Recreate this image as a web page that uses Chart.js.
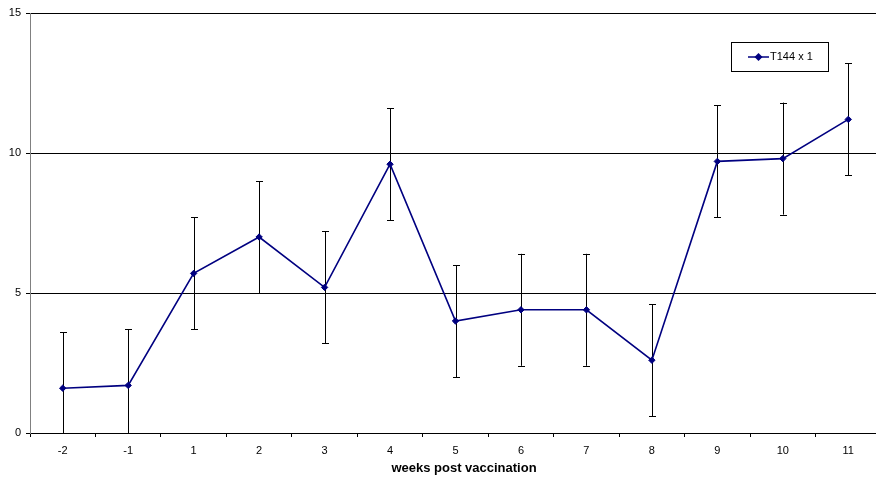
<!DOCTYPE html>
<html>
<head>
<meta charset="utf-8">
<script src="https://cdn.jsdelivr.net/npm/chart.js@4/dist/chart.umd.min.js"></script>
<style>
html,body{margin:0;padding:0;overflow:hidden;background:#fff;}
#wrap{position:absolute;left:0;top:0;width:886px;height:479px;}
</style>
</head>
<body>
<div id="wrap"><canvas id="c"></canvas></div>
<script>
const categories = ['-2','-1','1','2','3','4','5','6','7','8','9','10','11'];
const values = [1.6, 1.7, 5.7, 7.0, 5.2, 9.6, 4.0, 4.4, 4.4, 2.6, 9.7, 9.8, 11.2];
const errors = [2, 2, 2, 2, 2, 2, 2, 2, 2, 2, 2, 2, 2];
const yTicks = [0, 5, 10, 15];
const seriesLabel = 'T144 x 1';
const xTitle = 'weeks post vaccination';

const FONT = '"Liberation Sans", Arial, sans-serif';
const NAVY = '#000080';

const errorBars = {
  id: 'errorBars',
  beforeDatasetsDraw(chart) {
    const ctx = chart.ctx, x = chart.scales.x, y = chart.scales.y, a = chart.chartArea;
    ctx.save();
    ctx.beginPath();
    ctx.rect(a.left, a.top, a.right - a.left, a.bottom - a.top);
    ctx.clip();
    ctx.strokeStyle = '#000';
    ctx.lineWidth = 1;
    values.forEach((v, i) => {
      const px = Math.round(x.getPixelForValue(i)) + 0.5;
      const hi = y.getPixelForValue(v + errors[i]);
      const lo = y.getPixelForValue(v - errors[i]);
      ctx.beginPath();
      ctx.moveTo(px, hi); ctx.lineTo(px, lo);
      ctx.moveTo(px - 3.5, Math.round(hi) + 0.5); ctx.lineTo(px + 3.5, Math.round(hi) + 0.5);
      ctx.moveTo(px - 3.5, Math.round(lo) + 0.5); ctx.lineTo(px + 3.5, Math.round(lo) + 0.5);
      ctx.stroke();
    });
    ctx.restore();
  }
};

const extras = {
  id: 'extras',
  afterDraw(chart) {
    const ctx = chart.ctx;
    ctx.save();
    // legend box
    ctx.fillStyle = '#fff';
    ctx.fillRect(731, 42, 97, 29);
    ctx.strokeStyle = '#000';
    ctx.lineWidth = 1;
    ctx.strokeRect(731.5, 42.5, 97, 29);
    ctx.strokeStyle = NAVY;
    ctx.lineWidth = 1.5;
    ctx.beginPath();
    ctx.moveTo(748, 57); ctx.lineTo(769, 57);
    ctx.stroke();
    ctx.fillStyle = NAVY;
    ctx.beginPath();
    ctx.moveTo(758.5, 53); ctx.lineTo(762.5, 57); ctx.lineTo(758.5, 61); ctx.lineTo(754.5, 57);
    ctx.closePath(); ctx.fill();
    ctx.fillStyle = '#000';
    ctx.font = '11px ' + FONT;
    ctx.textAlign = 'left';
    ctx.textBaseline = 'middle';
    ctx.fillText(seriesLabel, 770, 57);
    // axis title
    ctx.font = 'bold 13px ' + FONT;
    ctx.textAlign = 'center';
    ctx.textBaseline = 'alphabetic';
    ctx.fillText(xTitle, 464, 472);
    ctx.restore();
  }
};

new Chart(document.getElementById('c'), {
  type: 'line',
  data: {
    labels: categories,
    datasets: [{
      label: seriesLabel,
      data: values,
      borderColor: NAVY,
      backgroundColor: NAVY,
      borderWidth: 1.6,
      pointStyle: 'rectRot',
      pointRadius: 3.2,
      pointBorderWidth: 1,
      pointBorderColor: NAVY,
      pointBackgroundColor: NAVY,
      tension: 0,
      fill: false
    }]
  },
  options: {
    responsive: true,
    maintainAspectRatio: false,
    animation: false,
    devicePixelRatio: 1,
    layout: { padding: { top: 13, left: 0, right: 0, bottom: 0 } },
    plugins: { legend: { display: false }, tooltip: { enabled: false } },
    scales: {
      x: {
        type: 'category',
        offset: true,
        grid: { display: true, offset: true, drawOnChartArea: false, drawTicks: true, tickLength: 4, color: '#000' },
        border: { display: true, color: '#000', width: 1 },
        ticks: { color: '#000', font: { family: FONT, size: 11 }, padding: 7, maxRotation: 0, autoSkip: false },
        afterFit(s) { s.height = 46; }
      },
      y: {
        min: 0, max: 15,
        afterBuildTicks(s) { s.ticks = yTicks.map(v => ({ value: v })); },
        grid: { color: '#000', tickLength: 4, drawTicks: true },
        border: { display: true, color: '#808080', width: 1 },
        ticks: { color: '#000', font: { family: FONT, size: 11 }, padding: 5 },
        afterFit(s) { s.width = 30; }
      }
    }
  },
  plugins: [errorBars, extras]
});
</script>
</body>
</html>
